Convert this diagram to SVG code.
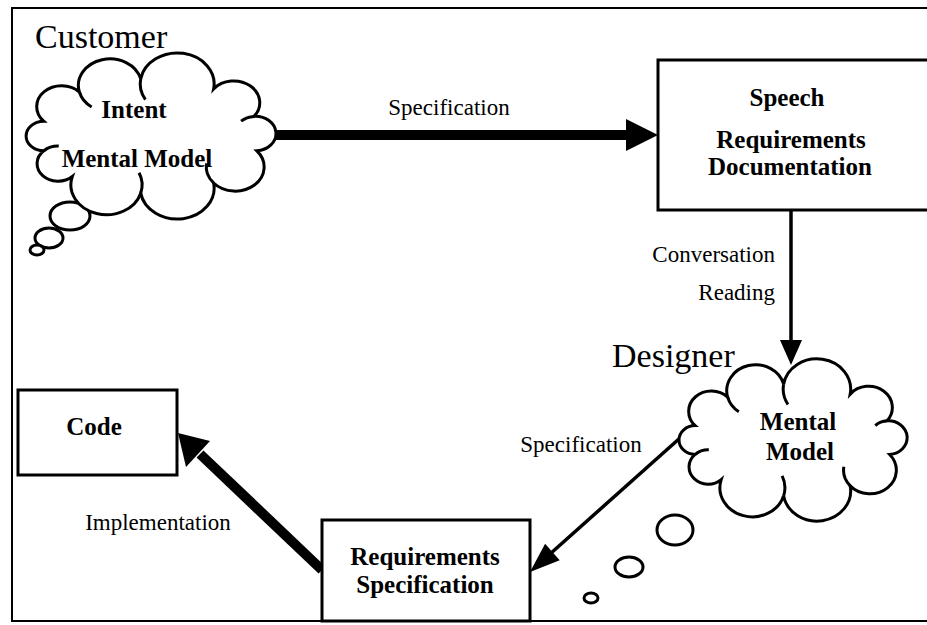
<svg xmlns="http://www.w3.org/2000/svg" xmlns:xlink="http://www.w3.org/1999/xlink" width="927" height="625" viewBox="0 0 927 625">
  <style>
    text { font-family: "Liberation Serif", "Times New Roman", serif; fill: #000; }
    .actor { font-size: 34px; }
    .node { font-size: 25px; font-weight: bold; text-anchor: middle; }
    .label { font-size: 23px; }
    .box { fill: #fff; stroke: #000; stroke-width: 3; }
    .bubble { fill: #fff; stroke: #000; stroke-width: 3; }
    .thin { stroke: #000; stroke-width: 3.5; fill: none; }
    .thick { stroke: #000; stroke-width: 10; fill: none; }
    .head { fill: #000; stroke: none; }
  </style>
  <defs>
    <!-- cloud outline centred on the origin (half-circle lobes), with the short inner creases -->
    <g id="cloudShape">
      <path d="M -96.6 -16 A 22.3 22.3 0 0 1 -64.3 -47.5 A 28.4 28.4 0 0 1 -8.7 -61.8 A 33.2 33.2 0 0 1 57.4 -50.8 A 23.3 23.3 0 0 1 94 -21.2 A 18.4 18.4 0 0 1 96.6 16 A 25.9 25.9 0 0 1 57.4 50.8 A 33.2 33.2 0 0 1 -8.7 61.8 A 32 32 0 0 1 -70.7 43.8 A 18.7 18.7 0 0 1 -96.6 16 A 15.7 15.7 0 0 1 -96.6 -16 Z" fill="#fff" stroke="#000" stroke-width="3" vector-effect="non-scaling-stroke"/>
      <path d="M -64.3 -47.5 A 28.7 28.7 0 0 0 -53.2 -31.3 M -8.7 -61.8 A 33.5 33.5 0 0 0 -4.45 -39.3 M 94 -21.2 A 18.7 18.7 0 0 0 82.3 -16 M 57.4 50.8 A 26.2 26.2 0 0 1 51.1 29.6 M -8.7 61.8 A 32.3 32.3 0 0 0 -10.2 39.8 M -96.6 16 A 19 19 0 0 1 -83 10.9" fill="none" stroke="#000" stroke-width="3" vector-effect="non-scaling-stroke"/>
    </g>
  </defs>

  <rect width="927" height="625" fill="#fff"/>
  <!-- outer frame, running off the right edge -->
  <rect x="12" y="8" width="930" height="613" fill="none" stroke="#000" stroke-width="2"/>

  <g id="connectors">
    <!-- Specification: customer to speech / documentation -->
    <line class="thick" x1="275" y1="135" x2="630" y2="135"/>
    <polygon class="head" points="658,135 626,119 626,151"/>
    <!-- Conversation / Reading -->
    <line class="thin" x1="791" y1="210" x2="791" y2="345"/>
    <polygon class="head" points="791,365 780,340 802,340"/>
    <!-- Specification: designer to requirements specification -->
    <line class="thin" x1="680" y1="438" x2="550" y2="554"/>
    <polygon class="head" points="530,572 559.7,560.2 545.1,543.8"/>
    <!-- Implementation: requirements specification to code -->
    <line class="thick" x1="322" y1="570" x2="200" y2="454"/>
    <polygon class="head" points="178,433 210,441 186,467"/>
  </g>

  <g id="connector-labels">
    <text class="label" x="449" y="115" text-anchor="middle">Specification</text>
    <text class="label" x="775" y="262" text-anchor="end">Conversation</text>
    <text class="label" x="775" y="300" text-anchor="end">Reading</text>
    <text class="label" x="581" y="452" text-anchor="middle">Specification</text>
    <text class="label" x="158" y="530" text-anchor="middle">Implementation</text>
  </g>

  <g id="customer">
    <text class="actor" x="35" y="48">Customer</text>
    <ellipse class="bubble" cx="70" cy="216" rx="20" ry="14"/>
    <ellipse class="bubble" cx="49" cy="238" rx="14" ry="10"/>
    <ellipse class="bubble" cx="37" cy="250" rx="7" ry="5"/>
    <use xlink:href="#cloudShape" transform="translate(150.3 136) scale(1.103 0.925)"/>
    <text class="node" x="134" y="118">Intent</text>
    <text class="node" x="137" y="167">Mental Model</text>
  </g>

  <g id="speech-documentation">
    <rect class="box" x="658" y="60" width="280" height="150"/>
    <text class="node" x="787" y="106">Speech</text>
    <text class="node" x="791" y="148">Requirements</text>
    <text class="node" x="790" y="175">Documentation</text>
  </g>

  <g id="designer">
    <text class="actor" x="612" y="367">Designer</text>
    <ellipse class="bubble" cx="675" cy="530" rx="18" ry="15"/>
    <ellipse class="bubble" cx="629" cy="567" rx="14" ry="10"/>
    <ellipse class="bubble" cx="591" cy="598" rx="7" ry="5"/>
    <use xlink:href="#cloudShape" transform="translate(792.4 440) scale(1.007 0.903)"/>
    <text class="node" x="798" y="430">Mental</text>
    <text class="node" x="800" y="460">Model</text>
  </g>

  <g id="requirements-specification">
    <rect class="box" x="322" y="520" width="208" height="101"/>
    <text class="node" x="425" y="565">Requirements</text>
    <text class="node" x="425" y="593">Specification</text>
  </g>

  <g id="code">
    <rect class="box" x="18" y="390" width="159" height="85"/>
    <text class="node" x="94" y="435">Code</text>
  </g>
</svg>
